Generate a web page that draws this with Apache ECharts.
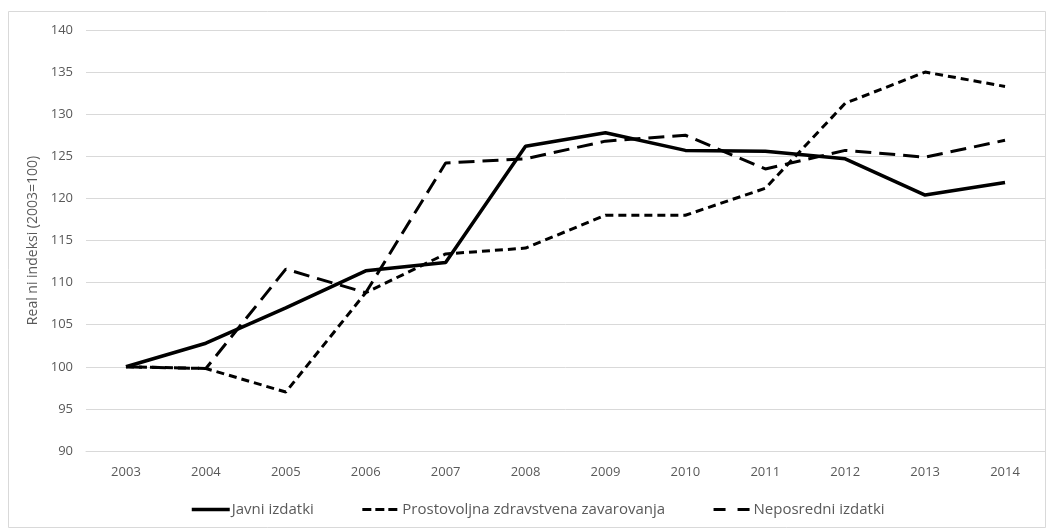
<!DOCTYPE html>
<html>
<head>
<meta charset="utf-8">
<script src="https://cdn.jsdelivr.net/npm/echarts@6/dist/echarts.min.js"></script>
<style>
html,body{margin:0;padding:0;background:#fff;}
#c{width:1048px;height:530px;}
</style>
</head>
<body>
<div id="c"></div>
<script>
const years = ['2003','2004','2005','2006','2007','2008','2009','2010','2011','2012','2013','2014'];
const javni = [100, 102.8, 107, 111.4, 112.4, 126.2, 127.8, 125.7, 125.6, 124.7, 120.4, 121.9];
const prostovoljna = [100, 99.8, 97, 108.8, 113.4, 114.1, 118, 118, 121.2, 131.3, 135, 133.3];
const neposredni = [100, 99.8, 111.6, 108.8, 124.2, 124.7, 126.8, 127.5, 123.5, 125.7, 124.9, 126.9];
const seriesNames = ['Javni izdatki', 'Prostovoljna zdravstvena zavarovanja', 'Neposredni izdatki'];

const chart = echarts.init(document.getElementById('c'));
const font = '"Open Sans", sans-serif';
chart.setOption({
  animation: false,
  backgroundColor: '#fff',
  graphic: [{
    type: 'rect',
    shape: {x: 8.5, y: 11.5, width: 1037, height: 516},
    style: {fill: 'none', stroke: '#d9d9d9', lineWidth: 1},
    silent: true
  }],
  grid: {left: 86, right: 3, top: 30, bottom: 79},
  legend: {
    bottom: 8,
    left: 185,
    itemWidth: 38,
    itemHeight: 12,
    itemGap: 47,
    itemStyle: {opacity: 0},
    textStyle: {fontFamily: font, fontSize: 15, color: '#595959', padding: [0, 0, 0, -3]},
    data: [
      {name: seriesNames[0], lineStyle: {width: 3.5, type: 'solid'}},
      {name: seriesNames[1], lineStyle: {width: 3, type: [9, 4]}},
      {name: seriesNames[2], lineStyle: {width: 3, type: [12, 12]}}
    ]
  },
  xAxis: {
    type: 'category',
    data: years,
    boundaryGap: true,
    axisLine: {lineStyle: {color: '#d9d9d9', width: 1}},
    axisTick: {show: false},
    axisLabel: {fontFamily: font, fontSize: 13, color: '#595959', margin: 15}
  },
  yAxis: {
    type: 'value',
    min: 90,
    max: 140,
    interval: 5,
    name: 'Real ni indeksi (2003=100)',
    nameLocation: 'middle',
    nameGap: 37,
    nameTextStyle: {fontFamily: font, fontSize: 14, color: '#595959'},
    axisLine: {show: false},
    axisTick: {show: false},
    axisLabel: {fontFamily: font, fontSize: 13, color: '#595959', margin: 13},
    splitLine: {lineStyle: {color: '#d9d9d9', width: 1}}
  },
  series: [
    {name: seriesNames[0], type: 'line', data: javni, symbol: 'none',
     lineStyle: {color: '#000', width: 3.5, type: 'solid'}, itemStyle: {color: '#000'}},
    {name: seriesNames[1], type: 'line', data: prostovoljna, symbol: 'none',
     lineStyle: {color: '#000', width: 3, type: [8, 5]}, itemStyle: {color: '#000'}},
    {name: seriesNames[2], type: 'line', data: neposredni, symbol: 'none',
     lineStyle: {color: '#000', width: 3, type: [16, 8]}, itemStyle: {color: '#000'}}
  ]
});
</script>
</body>
</html>
